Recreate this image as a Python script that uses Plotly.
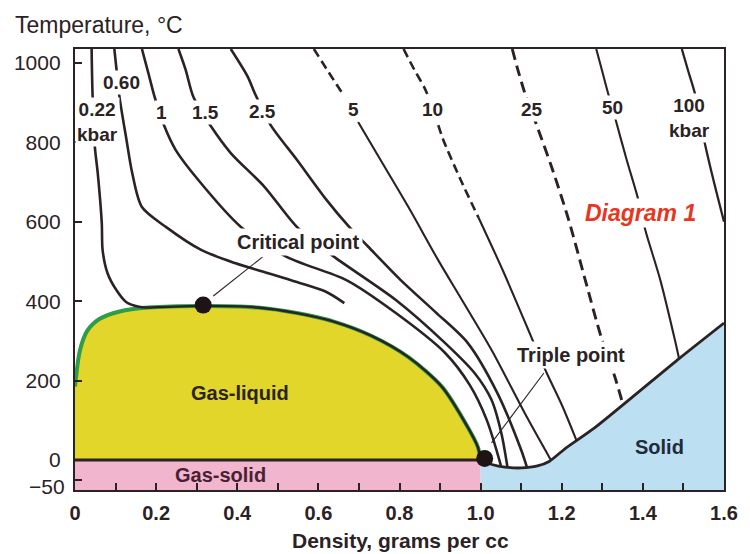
import plotly.graph_objects as go

# ---------------- data ----------------
T_MIN, T_MAX = -75.6, 1035.0
D_MIN, D_MAX = 0.0, 1.6

x_tick_vals = [0, 0.2, 0.4, 0.6, 0.8, 1.0, 1.2, 1.4, 1.6]
x_tick_text = ["0", "0.2", "0.4", "0.6", "0.8", "1.0", "1.2", "1.4", "1.6"]
y_tick_vals = [-50, 0, 200, 400, 600, 800, 1000]
y_tick_text = ["\u221250", "0", "200", "400", "600", "800", "1000"]

# gas-liquid coexistence dome
dome_density = [0.0, 0.012, 0.03, 0.06, 0.11, 0.18, 0.316, 0.45, 0.547, 0.64, 0.73, 0.822, 0.905, 0.968, 0.993, 1.0]
dome_temp = [185, 275, 325, 355, 374, 384, 388, 384, 370, 348, 313, 259, 184, 83, 33, 0]

# gas-solid band
gas_solid_density = [0.0, 1.0]
gas_solid_temp = [T_MIN, 0.0]

# melting curve (liquid / solid boundary)
melt_density = [1.0, 1.03, 1.06, 1.1, 1.14, 1.17, 1.21, 1.28, 1.49, 1.6]
melt_temp = [0, -12, -18, -20, -15, -3, 30, 80, 256, 345]
solid_base_density = [1.0, 1.6]

# isobars (kbar)
p022_d = [0.041, 0.043, 0.049, 0.056, 0.066, 0.068, 0.080, 0.102, 0.126, 0.158, 0.18]
p022_t = [1035, 930, 788, 723, 597, 529, 471, 428, 398, 386, 384]

p060_d = [0.097, 0.102, 0.109, 0.127, 0.141, 0.165, 0.224, 0.311, 0.394, 0.474, 0.547, 0.62, 0.664]
p060_t = [1035, 987, 919, 806, 723, 637, 587, 529, 496, 471, 448, 423, 395]

p1_d = [0.165, 0.182, 0.195, 0.219, 0.248, 0.304, 0.409, 0.523, 0.669, 0.791, 0.912, 0.973, 1.015, 1.05]
p1_t = [1035, 970, 919, 844, 781, 705, 587, 511, 453, 370, 270, 189, 101, -14]

p15_d = [0.255, 0.273, 0.292, 0.336, 0.384, 0.467, 0.547, 0.633, 0.791, 0.912, 0.985, 1.027, 1.051, 1.066]
p15_t = [1035, 982, 914, 839, 773, 688, 587, 516, 403, 295, 219, 151, 68, -17]

p25_d = [0.384, 0.426, 0.443, 0.482, 0.547, 0.62, 0.676, 0.723, 0.803, 0.888, 0.968, 1.041, 1.1, 1.114]
p25_t = [1035, 965, 924, 844, 756, 655, 587, 537, 453, 373, 295, 169, 25, -18]

p5_dash_d = [0.589, 0.625, 0.662]
p5_dash_t = [1035, 977, 919]
p5_solid_d = [0.698, 0.749, 0.822, 0.895, 0.954, 1.027, 1.114, 1.172]
p5_solid_t = [851, 763, 637, 504, 403, 277, 108, 2]

p10_dash_d = [0.810, 0.837, 0.864, 0.893, 0.908, 0.951, 0.995]
p10_dash_t = [1035, 982, 932, 851, 806, 705, 610]
p10_solid_d = [0.995, 1.054, 1.107, 1.131, 1.163, 1.2, 1.236]
p10_solid_t = [610, 479, 353, 295, 219, 139, 50]

p25k_d = [1.078, 1.092, 1.109, 1.136, 1.175, 1.217, 1.258, 1.297, 1.331, 1.350]
p25k_t = [1035, 982, 924, 849, 738, 605, 453, 310, 209, 143]

p50_d = [1.285, 1.299, 1.314, 1.333, 1.360, 1.387, 1.406, 1.443, 1.479, 1.489]
p50_t = [1035, 982, 924, 856, 756, 662, 579, 453, 302, 256]

p100_d = [1.496, 1.511, 1.528, 1.552, 1.574, 1.6]
p100_t = [1035, 982, 924, 801, 705, 600]

# special points
critical_point = (0.316, 390)
triple_point = (1.01, 4)

# isobar labels: (text, density, temperature)
isobar_labels = [
    ("0.22<br>kbar", 0.056, 851),
    ("0.60", 0.114, 950),
    ("1", 0.214, 874),
    ("1.5", 0.321, 874),
    ("2.5", 0.462, 877),
    ("5", 0.686, 882),
    ("10", 0.881, 882),
    ("25", 1.127, 882),
    ("50", 1.326, 887),
    ("100<br>kbar", 1.514, 861),
]

# leader lines
crit_leader_d = [0.462, 0.341]
crit_leader_t = [511, 413]
triple_leader_d = [1.156, 1.027]
triple_leader_t = [219, 43]

# ---------------- styling ----------------
DARK = "#2b2224"
YELLOW = "#e1d629"
PINK = "#f1b6cd"
BLUE = "#bcdff2"
GREEN = "#2e9c48"
FONT = "Liberation Sans"

fig = go.Figure()


def add_line(d, t, width=2.6, dash="solid", color=DARK, shape="spline"):
    fig.add_trace(go.Scatter(
        x=d, y=t, mode="lines",
        line=dict(color=color, width=width, dash=dash, shape=shape, smoothing=0.8),
        hoverinfo="skip", showlegend=False))


# gas-solid band
fig.add_trace(go.Scatter(
    x=[gas_solid_density[0], gas_solid_density[1], gas_solid_density[1], gas_solid_density[0]],
    y=[gas_solid_temp[0], gas_solid_temp[0], gas_solid_temp[1], gas_solid_temp[1]],
    mode="lines", fill="toself", fillcolor=PINK, line=dict(width=0),
    hoverinfo="skip", showlegend=False))

# solid region
fig.add_trace(go.Scatter(
    x=solid_base_density, y=[T_MIN] * len(solid_base_density), mode="lines",
    line=dict(width=0, color=BLUE), hoverinfo="skip", showlegend=False))
fig.add_trace(go.Scatter(
    x=melt_density, y=melt_temp, mode="lines", fill="tonexty", fillcolor=BLUE,
    line=dict(color=DARK, width=2.8, shape="spline", smoothing=0.6),
    hoverinfo="skip", showlegend=False))

# gas-liquid dome
fig.add_trace(go.Scatter(
    x=dome_density, y=dome_temp, mode="lines", fill="tozeroy", fillcolor=YELLOW,
    line=dict(color=GREEN, width=4, shape="spline", smoothing=0.8),
    hoverinfo="skip", showlegend=False))
add_line(dome_density[5:], dome_temp[5:], width=2.4)

# gas-liquid / gas-solid boundary at 0 degC
add_line(gas_solid_density, [0, 0], width=2.8, shape="linear")

# isobars
add_line(p022_d, p022_t)
add_line(p060_d, p060_t)
add_line(p1_d, p1_t)
add_line(p15_d, p15_t)
add_line(p25_d, p25_t)
add_line(p5_dash_d, p5_dash_t, dash="9px,5px")
add_line(p5_solid_d, p5_solid_t, width=2.1)
add_line(p10_dash_d, p10_dash_t, dash="9px,5px")
add_line(p10_solid_d, p10_solid_t, width=2.1)
add_line(p25k_d, p25k_t, width=2.9, dash="11px,6px")
add_line(p50_d, p50_t, width=2.1)
add_line(p100_d, p100_t, width=2.3)

# leader lines
add_line(crit_leader_d, crit_leader_t, width=1.1, shape="linear")
add_line(triple_leader_d, triple_leader_t, width=1.1, shape="linear")

# critical / triple points
fig.add_trace(go.Scatter(
    x=[critical_point[0], triple_point[0]], y=[critical_point[1], triple_point[1]],
    mode="markers", marker=dict(color="#1e1416", size=17),
    hoverinfo="skip", showlegend=False))

annotations = []
for text, d, t in isobar_labels:
    annotations.append(dict(
        x=d, y=t, xref="x", yref="y", text="<b>" + text + "</b>", showarrow=False,
        font=dict(family=FONT, size=19, color=DARK), bgcolor="white", borderpad=1))


def label(text, d, t, size=20, color=DARK, bg=None, pad=1):
    a = dict(x=d, y=t, xref="x", yref="y", text=text, showarrow=False,
             font=dict(family=FONT, size=size, color=color), borderpad=pad)
    if bg:
        a["bgcolor"] = bg
    annotations.append(a)


label("<b>Critical point</b>", 0.552, 549, bg="white", pad=2)
label("<b>Triple point</b>", 1.224, 264, bg="white", pad=2)
label("<b>Gas-liquid</b>", 0.406, 169)
label("<b>Gas-solid</b>", 0.358, -38, color="#4a1f33")
label("<b>Solid</b>", 1.441, 33, color="#1f2a3a")
label("<b><i>Diagram 1</i></b>", 1.395, 622, size=23, color="#e8361e", bg="white", pad=1)

# the lowest y tick label sits a little lower (next to the bottom axis) in the reference
annotations.append(dict(
    x=0, y=y_tick_vals[0], xref="paper", yref="y", xanchor="right", yanchor="middle",
    xshift=-8, yshift=-7, text=y_tick_text[0], showarrow=False,
    font=dict(family=FONT, size=21, color=DARK)))

annotations.append(dict(
    x=-0.0959, y=1.0544, xref="paper", yref="paper", xanchor="left", yanchor="middle",
    text="Temperature, \u00b0C", showarrow=False,
    font=dict(family=FONT, size=23, color=DARK)))
annotations.append(dict(
    x=0.502, y=-0.1156, xref="paper", yref="paper", xanchor="center", yanchor="middle",
    text="<b>Density, grams per cc</b>", showarrow=False,
    font=dict(family=FONT, size=21, color=DARK)))

fig.update_layout(
    width=750, height=554,
    margin=dict(l=75, r=18, t=49, b=64),
    paper_bgcolor="white", plot_bgcolor="white",
    annotations=annotations,
    showlegend=False,
)

fig.update_xaxes(
    range=[D_MIN, D_MAX], tickvals=x_tick_vals, ticktext=["<b>" + s + "</b>" for s in x_tick_text],
    showline=True, linecolor=DARK, linewidth=2.2, mirror=True,
    ticks="inside", ticklen=7, tickwidth=1.5, tickcolor=DARK,
    minor=dict(dtick=0.1, ticks="inside", ticklen=7, tickwidth=1.5, tickcolor=DARK),
    showgrid=False, zeroline=False, ticklabelstandoff=4,
    tickfont=dict(family=FONT, size=20, color=DARK),
)
fig.update_yaxes(
    range=[T_MIN, T_MAX], tickvals=y_tick_vals, ticktext=[""] + y_tick_text[1:],
    showline=True, linecolor=DARK, linewidth=2.4, mirror=True,
    ticks="inside", ticklen=7, tickwidth=1.5, tickcolor=DARK,
    showgrid=False, zeroline=False, ticklabelstandoff=8,
    tickfont=dict(family=FONT, size=21, color=DARK),
)

fig.write_html("out.html")
